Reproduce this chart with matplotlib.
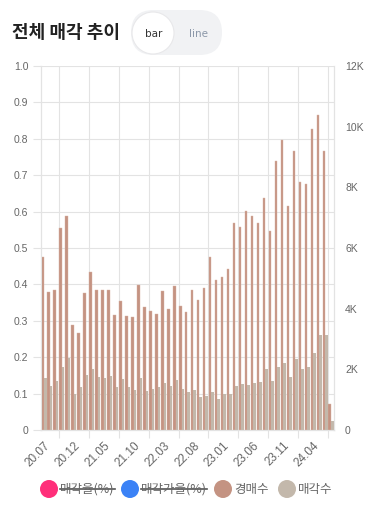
import numpy as np
import pandas as pd
import matplotlib
matplotlib.use("Agg")
import matplotlib.pyplot as plt
from matplotlib.patches import Circle, FancyBboxPatch
from matplotlib.transforms import IdentityTransform
from matplotlib.lines import Line2D

# monthly categories 2020.07 - 2024.07
months = list(pd.period_range("2020-07", "2024-07", freq="M").strftime("%y.%m"))

# 경매수 (auction count)
auctions = [5690, 4540, 4610, 6660, 7050, 3460, 3200, 4510, 5200, 4610,
            4610, 4610, 3790, 4250, 3760, 3720, 4780, 4050, 3910, 3820,
            4580, 3990, 4740, 4090, 3890, 4610, 4280, 4690, 5700, 4950,
            5040, 5300, 6820, 6690, 7210, 7050, 6840, 7640, 6550, 8860,
            9550, 7380, 9190, 8170, 8100, 9920, 10380, 9190, 870]
# 매각수 (sold count)
sold = [1700, 1460, 1610, 2080, 2380, 1190, 1420, 1810, 2010, 1750,
        1710, 1780, 1420, 1680, 1410, 1320, 1710, 1290, 1350, 1420,
        1550, 1450, 1650, 1350, 1260, 1320, 1090, 1120, 1250, 1020,
        1190, 1190, 1450, 1520, 1480, 1550, 1580, 2010, 1610, 2080,
        2210, 1750, 2340, 2010, 2080, 2540, 3130, 3130, 300]

left_ticks = [0, 0.1, 0.2, 0.3, 0.4, 0.5, 0.6, 0.7, 0.8, 0.9, 1.0]
left_labels = ["0", "0.1", "0.2", "0.3", "0.4", "0.5", "0.6", "0.7", "0.8", "0.9", "1.0"]
right_ticks = [0, 2000, 4000, 6000, 8000, 10000, 12000]
right_labels = ["0", "2K", "4K", "6K", "8K", "10K", "12K"]

legend_names = ["매각율(%)", "매각가율(%)", "경매수", "매각수"]
legend_colors = ["#ff2f7a", "#3b82f6", "#c49382", "#c3b8ab"]
legend_hidden = [True, True, False, False]

W, H = 374, 507
GRID = "#e3e3e3"
TXT = "#666666"
KR = ["Noto Sans CJK KR", "DejaVu Sans"]

fig = plt.figure(figsize=(W / 100, H / 100), dpi=100)
fig.patch.set_facecolor("white")

ax = fig.add_axes([41 / W, 77 / H, 293 / W, 364 / H])
ax2 = ax.twinx()

x = np.arange(len(months))
bw = 0.42
ax2.bar(x - bw / 2, auctions, bw, color=legend_colors[2], edgecolor="#d9b3a6", linewidth=0.3)
ax2.bar(x + bw / 2, sold, bw, color=legend_colors[3], linewidth=0)

ax.set_xlim(-0.5, len(months) - 0.5)
ax.set_ylim(0, 1)
ax2.set_ylim(0, 12000)

# category labels every 5 months, grid lines between categories
ax.set_xticks(x[::5])
ax.set_xticklabels([months[i] for i in x[::5]], rotation=45, ha="right",
                   rotation_mode="anchor", fontsize=8.5, color=TXT, family="Liberation Sans")
ax.set_xticks(np.arange(2.5, len(months), 5), minor=True)
ax.tick_params(axis="x", which="major", length=0, pad=7)
ax.tick_params(axis="x", which="minor", length=6, color=GRID, width=0.8)
ax.grid(which="minor", axis="x", color=GRID, linewidth=0.8)

ax.set_yticks(left_ticks)
ax.set_yticklabels(left_labels, fontsize=7.5, color=TXT, family="Liberation Sans")
ax.tick_params(axis="y", length=6, color=GRID, width=0.8, pad=3)
ax.grid(which="major", axis="y", color=GRID, linewidth=0.8)

ax2.set_yticks(right_ticks)
ax2.set_yticklabels(right_labels, fontsize=7.5, color=TXT, family="Liberation Sans")
ax2.tick_params(axis="y", length=0, pad=8)

for a in (ax, ax2):
    a.spines["top"].set_visible(False)
    for s in ("left", "right", "bottom"):
        a.spines[s].set_color(GRID)
        a.spines[s].set_linewidth(0.8)
ax.set_axisbelow(True)

# title
fig.text(12 / W, 1 - 33 / H, "전체 매각 추이", fontsize=13, fontweight="bold",
         color="#222222", va="center", ha="left", family=KR)

# bar / line toggle
ident = IdentityTransform()
pill = FancyBboxPatch((131, H - 55), 91, 45, boxstyle="round,pad=0,rounding_size=22.5",
                      facecolor="#f1f2f4", edgecolor="none", transform=ident)
fig.add_artist(pill)
fig.add_artist(Circle((153, H - 33), 21, facecolor="white", edgecolor="#e8e8ea",
                      linewidth=0.8, transform=ident))
fig.text(154 / W, 1 - 34 / H, "bar", fontsize=7.5, color="#333333", ha="center", va="center")
fig.text(198 / W, 1 - 34 / H, "line", fontsize=7.5, color="#8b97a8", ha="center", va="center")

# legend
leg_x = [49, 130, 223, 287]
leg_y = H - 489
for cx, name, col, hidden in zip(leg_x, legend_names, legend_colors, legend_hidden):
    fig.add_artist(Circle((cx, leg_y), 9, facecolor=col, edgecolor="none", transform=ident))
    t = fig.text((cx + 11) / W, leg_y / H, name, fontsize=9, color=TXT,
                 ha="left", va="center", family=KR)
    if hidden:
        fig.canvas.draw()
        bb = t.get_window_extent()
        fig.add_artist(Line2D([bb.x0, bb.x1], [leg_y, leg_y], color="#555555",
                              linewidth=1.2, transform=ident))

fig.savefig("out.png", dpi=100)
